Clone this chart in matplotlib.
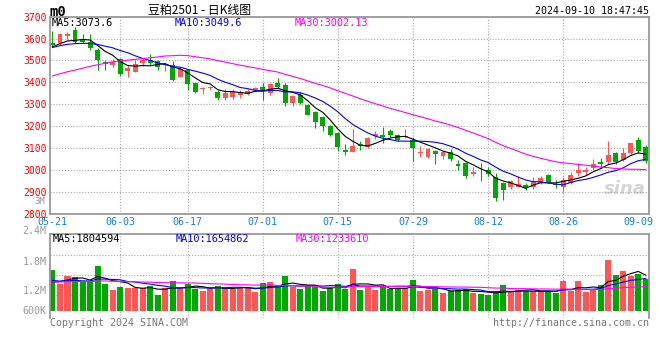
import numpy as np
import pandas as pd
import matplotlib
matplotlib.use('Agg')
import matplotlib.pyplot as plt

plt.rcParams['font.family'] = ['DejaVu Sans Mono', 'Noto Sans CJK SC']

# 交易日 2024-05-21 ~ 2024-09-10（06-10 端午休市）
days = pd.bdate_range('2024-05-21', '2024-09-10')
days = days[days != pd.Timestamp('2024-06-10')]
tick_labels = ['05-21', '06-03', '06-17', '07-01', '07-15', '07-29', '08-12', '08-26', '09-09']

open_ = [3580, 3578, 3612, 3638, 3595, 3586, 3547, 3493, 3480, 3505,
         3452, 3449, 3488, 3500, 3497, 3478, 3478, 3425, 3454, 3395,
         3369, 3372, 3357, 3330, 3333, 3343, 3345, 3366, 3380, 3350,
         3395, 3388, 3305, 3342, 3296, 3266, 3243, 3200, 3170, 3090,
         3084, 3117, 3106, 3153, 3160, 3178, 3160, 3148, 3137, 3077,
         3060, 3086, 3064, 3080, 3026, 3033, 2981, 2997, 3000, 2968,
         2940, 2920, 2924, 2931, 2920, 2940, 2975, 2936, 2923, 2940,
         2985, 2989, 3010, 3035, 3035, 3076, 3045, 3076, 3136, 3105]
high = [3634, 3624, 3630, 3654, 3620, 3620, 3558, 3502, 3505, 3510,
        3480, 3502, 3510, 3530, 3500, 3490, 3495, 3470, 3460, 3397,
        3380, 3385, 3365, 3368, 3370, 3365, 3368, 3380, 3395, 3398,
        3418, 3395, 3340, 3355, 3300, 3268, 3245, 3205, 3175, 3118,
        3187, 3132, 3150, 3178, 3197, 3185, 3165, 3188, 3148, 3110,
        3100, 3090, 3088, 3095, 3045, 3035, 3015, 3030, 3015, 2985,
        2945, 2956, 2972, 2940, 2969, 2970, 2982, 2955, 2968, 2989,
        3030, 3015, 3048, 3053, 3132, 3083, 3099, 3125, 3152, 3113]
low = [3562, 3570, 3596, 3580, 3578, 3547, 3456, 3458, 3470, 3429,
       3426, 3448, 3475, 3480, 3455, 3450, 3405, 3422, 3366, 3350,
       3345, 3365, 3320, 3320, 3322, 3330, 3340, 3362, 3320, 3340,
       3372, 3290, 3290, 3300, 3250, 3190, 3176, 3157, 3088, 3068,
       3082, 3092, 3100, 3140, 3122, 3150, 3130, 3145, 3040, 3060,
       3055, 3027, 3048, 3040, 3000, 2962, 2970, 2950, 2970, 2860,
       2862, 2915, 2920, 2910, 2915, 2935, 2940, 2916, 2900, 2935,
       2973, 2977, 3000, 3008, 3026, 3026, 3040, 3070, 3076, 3030]
close = [3570, 3622, 3622, 3582, 3583, 3556, 3502, 3485, 3494, 3438,
         3466, 3484, 3500, 3488, 3470, 3483, 3410, 3459, 3393, 3357,
         3376, 3378, 3328, 3350, 3356, 3354, 3360, 3375, 3361, 3390,
         3378, 3305, 3336, 3305, 3252, 3220, 3200, 3160, 3103, 3080,
         3110, 3107, 3147, 3163, 3152, 3158, 3137, 3156, 3098, 3083,
         3094, 3072, 3083, 3050, 3020, 2972, 2992, 2993, 2981, 2873,
         2908, 2948, 2935, 2917, 2945, 2962, 2946, 2932, 2954, 2977,
         3000, 2999, 3026, 3028, 3068, 3035, 3076, 3122, 3087, 3040]
volume = [2030000, 1370000, 1750000, 1680000, 1430000, 1500000, 2250000, 1350000, 1050000, 1200000,
          1150000, 1150000, 1130000, 1250000, 780000, 1130000, 1480000, 1130000, 1370000, 1120000,
          980000, 1130000, 1230000, 1200000, 1100000, 1130000, 1200000, 950000, 1400000, 1450000,
          1200000, 1730000, 1200000, 1080000, 1280000, 1180000, 980000, 1200000, 1330000, 1120000,
          2080000, 1030000, 1200000, 1030000, 1200000, 1120000, 1120000, 1150000, 1530000, 980000,
          1030000, 1120000, 900000, 980000, 1030000, 1120000, 900000, 870000, 780000, 900000,
          1280000, 1000000, 1030000, 1000000, 1000000, 1000000, 1000000, 900000, 1480000, 980000,
          1480000, 950000, 1120000, 1280000, 2530000, 1780000, 2000000, 1750000, 1830000, 1600000]

# 窗口之前的行情（只用于均线起点）
prior_close = [3330, 3340, 3350, 3330, 3300, 3290, 3280, 3300, 3320, 3350,
               3370, 3390, 3380, 3360, 3350, 3370, 3400, 3450, 3500, 3520,
               3540, 3560, 3550, 3570, 3560, 3550, 3560, 3570, 3560]
prior_volume = [1350000, 1500000, 1280000, 1420000, 1600000, 1380000, 1250000, 1470000, 1550000, 1330000,
                1400000, 1620000, 1300000, 1450000, 1380000, 1520000, 1270000, 1430000, 1360000, 1370000,
                1720000, 1550000, 1480000, 1700000, 1600000, 1250000, 1380000, 1220000, 1370000]

ma_windows = [5, 10, 30]
ma_colors = ['black', '#0000FF', '#FF00FF']
up_color = '#FF5555'
down_color = '#00A800'
grid_color = '#A8A8A8'
frame_color = '#999999'

n = len(close)
x = np.arange(n)
o = np.array(open_, float)
c = np.array(close, float)
h = np.array(high, float)
l = np.array(low, float)
colors = np.where(c >= o, up_color, down_color)

all_close = pd.Series(prior_close + close)
all_vol = pd.Series(prior_volume + volume)
price_ma = [all_close.rolling(w).mean().values[-n:] for w in ma_windows]
vol_ma = [all_vol.rolling(w).mean().values[-n:] for w in ma_windows]

tick_idx = [list(days.strftime('%m-%d')).index(t) for t in tick_labels]

W, H = 660, 360
def fx(px):
    return px / W
def fy(py):
    return 1 - py / H

fig = plt.figure(figsize=(6.6, 3.6), dpi=100)
ax = fig.add_axes([fx(50), fy(213.7), 599 / W, (213.7 - 16.6) / H])
axv = fig.add_axes([fx(50), fy(318), 599 / W, (318 - 234) / H])

dot = (0, (1, 1.6))
for a in (ax, axv):
    a.set_xlim(-0.33, n - 0.57)
    for s in a.spines.values():
        s.set_color(frame_color)
        s.set_linewidth(1.3)
    for t in tick_idx[1:-1]:
        a.axvline(t, color=grid_color, lw=0.8, ls=dot, zorder=0)
    a.tick_params(length=0)

# K线
ax.vlines(x, l, h, color=colors, lw=0.8, zorder=2)
body = np.maximum(np.abs(c - o), 2.5)
ax.bar(x, body, bottom=np.minimum(o, c), width=0.66, color=colors, lw=0, zorder=2)
for ma, col in zip(price_ma, ma_colors):
    ax.plot(x, ma, color=col, lw=0.8, zorder=3)

ax.set_ylim(2800, 3700)
ax.set_yticks(range(2800, 3701, 100))
ax.set_yticklabels([str(v) for v in range(2800, 3701, 100)], color='#FF0000', fontsize=7)
ax.tick_params(axis='y', pad=2.5)
ax.grid(axis='y', color=grid_color, lw=0.8, ls=dot, zorder=0)
ax.set_xticks(tick_idx)
ax.set_xticklabels(tick_labels, color='#1580E0', fontsize=7.2)
ax.tick_params(axis='x', pad=2.6)
ax.text(0.995, 0.08, 'sina', transform=ax.transAxes, ha='right', va='bottom',
        fontsize=13, style='italic', weight='bold', color='#D5D5D5',
        family='DejaVu Sans', zorder=1)

# 成交量
axv.bar(x, volume, width=0.8, color=colors, lw=0, zorder=2)
for ma, col in zip(vol_ma, ma_colors):
    axv.plot(x, ma, color=col, lw=0.8, zorder=3)
axv.set_ylim(-350000, 3850000)
axv.set_yticks([800000, 1800000, 2800000])
axv.set_yticklabels([])
axv.set_xticks([])
axv.grid(axis='y', color=grid_color, lw=0.8, ls=dot, zorder=0)
axv.spines['bottom'].set_visible(False)
for txt, yy in [('2.4M', 1.036), ('1.8M', 0.67), ('1.2M', 0.325), ('600K', 0.083)]:
    axv.text(-0.006, yy, txt, transform=axv.transAxes, ha='right', va='center',
             fontsize=7.2, color='#999999', clip_on=False)
fig.text(fx(45), fy(202), '3M', ha='right', va='center', fontsize=6.5, color='#999999')

# 文字
fig.text(fx(50), fy(11.5), 'm0', ha='left', va='center', fontsize=10, weight='bold')
fig.text(fx(200), fy(10.5), '豆粕2501 - 日K线图', ha='center', va='center', fontsize=8.6,
         family=['Noto Sans CJK SC', 'DejaVu Sans'])
fig.text(fx(649), fy(11.5), '2024-09-10 18:47:45', ha='right', va='center', fontsize=7.2)

price_legend = ['MA5:3073.6', 'MA10:3049.6', 'MA30:3002.13']
vol_legend = ['MA5:1804594', 'MA10:1654862', 'MA30:1233610']
for xp, t1, t2, col in zip([52, 175, 295], price_legend, vol_legend, ma_colors):
    fig.text(fx(xp), fy(23.5), t1, ha='left', va='center', fontsize=7.4, color=col)
    fig.text(fx(xp + 1), fy(238.5), t2, ha='left', va='center', fontsize=7.4, color=col)

fig.text(fx(50), fy(323), 'Copyright 2024 SINA.COM', ha='left', va='center', fontsize=7.2, color='#777777')
fig.text(fx(649), fy(323), 'http://finance.sina.com.cn', ha='right', va='center', fontsize=7.2, color='#777777')

fig.savefig('out.png', dpi=100)
